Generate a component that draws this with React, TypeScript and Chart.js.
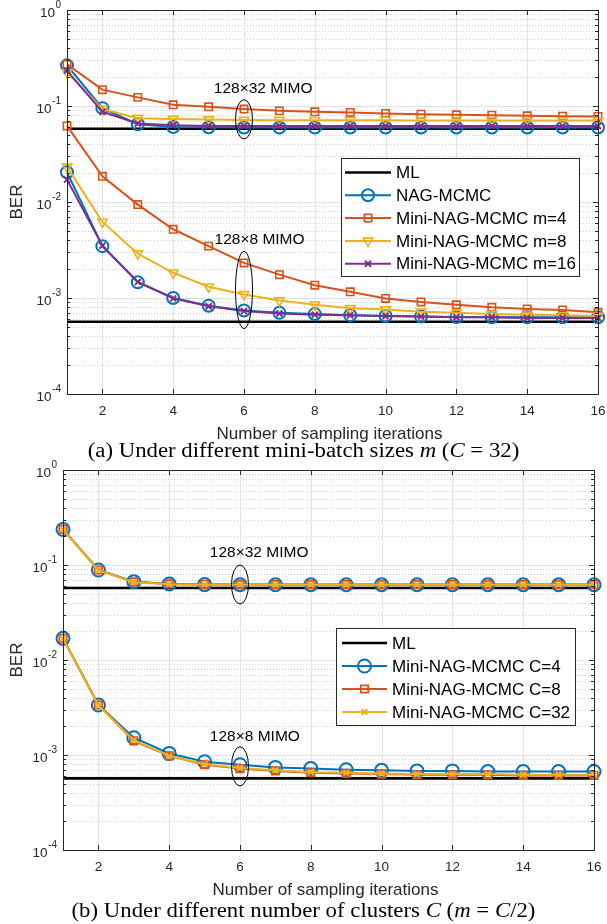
import React, { useEffect, useRef } from 'react';
import { Chart, registerables } from 'chart.js';
import { drawPoint } from 'chart.js/helpers';

Chart.register(...registerables);

// ---------- data ----------
const iterations = [1, 2, 3, 4, 5, 6, 7, 8, 9, 10, 11, 12, 13, 14, 15, 16];
const mlIterations = [1, 16];
const xTickValues = [2, 4, 6, 8, 10, 12, 14, 16];
const yTickExponents = [0, -1, -2, -3, -4];

// (a) different mini-batch sizes m (C = 32)
const mlA_32 = [0.058, 0.058];
const mlA_8 = [0.000566, 0.000566];
const nagA_32 = [0.265, 0.095, 0.0646, 0.0605, 0.0600, 0.0598, 0.0597, 0.0597, 0.0597, 0.0597, 0.0597, 0.0597, 0.0597, 0.0597, 0.0597, 0.0597];
const m4A_32 = [0.271, 0.148, 0.123, 0.103, 0.098, 0.093, 0.089, 0.087, 0.0857, 0.0836, 0.0822, 0.081, 0.0803, 0.079, 0.0784, 0.0778];
const m8A_32 = [0.225, 0.093, 0.0747, 0.073, 0.0722, 0.0716, 0.0712, 0.071, 0.071, 0.071, 0.0708, 0.0708, 0.0706, 0.0706, 0.0705, 0.0705];
const m16A_32 = [0.234, 0.087, 0.0656, 0.063, 0.062, 0.062, 0.0619, 0.0619, 0.0619, 0.0618, 0.0618, 0.0618, 0.0618, 0.0618, 0.0618, 0.0618];
const nagA_8 = [0.0204, 0.00347, 0.00146, 0.00100, 0.00083, 0.00074, 0.00070, 0.00068, 0.00066, 0.00065, 0.00064, 0.000635, 0.00063, 0.00063, 0.00063, 0.00063];
const m4A_8 = [0.062, 0.0185, 0.0094, 0.0052, 0.00347, 0.00232, 0.00175, 0.00136, 0.00116, 0.00099, 0.00091, 0.00085, 0.00080, 0.00077, 0.00075, 0.00071];
const m8A_8 = [0.0232, 0.0062, 0.0029, 0.00183, 0.00131, 0.00109, 0.00094, 0.00085, 0.00078, 0.00076, 0.00072, 0.00070, 0.00068, 0.00067, 0.00066, 0.00065];
const m16A_8 = [0.0171, 0.0035, 0.00147, 0.00099, 0.00082, 0.00073, 0.00069, 0.00067, 0.00066, 0.00065, 0.00064, 0.00063, 0.00063, 0.00062, 0.00062, 0.00062];

// (b) different number of clusters C (m = C/2)
const mlB_32 = [0.0573, 0.0573];
const mlB_8 = [0.000568, 0.000568];
const c4B_32 = [0.237, 0.0886, 0.0668, 0.063, 0.0622, 0.062, 0.062, 0.062, 0.062, 0.062, 0.062, 0.062, 0.062, 0.062, 0.062, 0.062];
const c8B_32 = [0.237, 0.0886, 0.0665, 0.0632, 0.0625, 0.0624, 0.0624, 0.0624, 0.0624, 0.0624, 0.0624, 0.0624, 0.0624, 0.0624, 0.0624, 0.0624];
const c32B_32 = [0.235, 0.088, 0.066, 0.0628, 0.062, 0.0619, 0.0619, 0.0619, 0.0619, 0.0619, 0.0619, 0.0619, 0.0619, 0.0619, 0.0619, 0.0619];
const c4B_8 = [0.0169, 0.00336, 0.00152, 0.00104, 0.00085, 0.00079, 0.00074, 0.00072, 0.0007, 0.00069, 0.00068, 0.00068, 0.00067, 0.00067, 0.00067, 0.00067];
const c8B_8 = [0.0169, 0.00336, 0.00141, 0.00098, 0.00079, 0.00072, 0.00068, 0.00065, 0.00064, 0.00063, 0.00062, 0.00062, 0.00062, 0.00061, 0.00061, 0.00061];
const c32B_8 = [0.0168, 0.00333, 0.00143, 0.00098, 0.0008, 0.00073, 0.00069, 0.00066, 0.00065, 0.00064, 0.00063, 0.00063, 0.00063, 0.00062, 0.00062, 0.00062];

// ---------- styles ----------
const FONT = '"Liberation Sans", Arial, Helvetica, sans-serif';
const AXIS = '#262626';
const BLUE = '#0072BD';
const ORANGE = '#D95319';
const YELLOW = '#EDB120';
const PURPLE = '#7E2F8E';

type Style = { color: string; lineWidth: number; marker: string | false; radius: number; rotation: number; markerWidth: number; order: number };

const styleML: Style = { color: '#000000', lineWidth: 2.6, marker: false, radius: 0, rotation: 0, markerWidth: 0, order: 10 };
const styleNag: Style = { color: BLUE, lineWidth: 2, marker: 'circle', radius: 6, rotation: 0, markerWidth: 2, order: 9 };
const styleM4: Style = { color: ORANGE, lineWidth: 2, marker: 'rect', radius: 5.2, rotation: 0, markerWidth: 1.6, order: 8 };
const styleM8: Style = { color: YELLOW, lineWidth: 2, marker: 'triangle', radius: 5.5, rotation: 180, markerWidth: 1.6, order: 7 };
const styleM16: Style = { color: PURPLE, lineWidth: 2, marker: 'crossRot', radius: 4.2, rotation: 0, markerWidth: 2, order: 6 };
const styleC4: Style = { color: BLUE, lineWidth: 2, marker: 'circle', radius: 6.5, rotation: 0, markerWidth: 2, order: 9 };
const styleC8: Style = { color: ORANGE, lineWidth: 2, marker: 'rect', radius: 5.2, rotation: 0, markerWidth: 1.8, order: 8 };
const styleC32: Style = { color: YELLOW, lineWidth: 2, marker: 'crossRot', radius: 4, rotation: 0, markerWidth: 2, order: 7 };

function ds(label: string, xs: number[], ys: number[], s: Style) {
  return {
    label,
    data: xs.map((x, i) => ({ x, y: ys[i] })),
    borderColor: s.color,
    borderWidth: s.lineWidth,
    pointStyle: s.marker,
    pointRadius: s.marker ? s.radius : 0,
    pointRotation: s.rotation,
    pointBorderColor: s.color,
    pointBackgroundColor: 'rgba(0,0,0,0)',
    pointBorderWidth: s.markerWidth,
    tension: 0,
    fill: false,
    clip: false,
    order: s.order,
  };
}

// ---------- drawing plugin (MATLAB-like axes) ----------
function line(ctx: CanvasRenderingContext2D, x0: number, y0: number, x1: number, y1: number) {
  ctx.beginPath();
  ctx.moveTo(x0, y0);
  ctx.lineTo(x1, y1);
  ctx.stroke();
}

const matlabPlugin = {
  id: 'matlab',
  beforeDatasetsDraw(chart: any) {
    const { ctx, chartArea: a, scales } = chart;
    const xs = scales.x, ys = scales.y;
    ctx.save();
    ctx.fillStyle = '#ffffff';
    ctx.fillRect(a.left, a.top, a.right - a.left, a.bottom - a.top);
    ctx.lineWidth = 1;
    // minor dotted y grid
    ctx.strokeStyle = '#cfcfcf';
    ctx.setLineDash([1, 2]);
    for (const e of yTickExponents) {
      if (e === 0) continue;
      for (let m = 2; m <= 9; m++) {
        const y = Math.round(ys.getPixelForValue(m * Math.pow(10, e))) + 0.5;
        line(ctx, a.left, y, a.right, y);
      }
    }
    ctx.setLineDash([]);
    ctx.strokeStyle = '#e2e2e2';
    for (const e of yTickExponents) {
      const y = Math.round(ys.getPixelForValue(Math.pow(10, e))) + 0.5;
      line(ctx, a.left, y, a.right, y);
    }
    for (const v of xTickValues) {
      const x = Math.round(xs.getPixelForValue(v)) + 0.5;
      line(ctx, x, a.top, x, a.bottom);
    }
    ctx.restore();
  },
  afterDatasetsDraw(chart: any, _args: any, opts: any) {
    const { ctx, chartArea: a, scales } = chart;
    const xs = scales.x, ys = scales.y;
    ctx.save();
    // box
    ctx.strokeStyle = AXIS;
    ctx.lineWidth = 1;
    ctx.strokeRect(Math.round(a.left) + 0.5, Math.round(a.top) + 0.5, Math.round(a.right - a.left), Math.round(a.bottom - a.top));
    // x ticks (inward, bottom and top)
    for (const v of xTickValues) {
      const x = Math.round(xs.getPixelForValue(v)) + 0.5;
      line(ctx, x, a.bottom, x, a.bottom - 5);
      line(ctx, x, a.top, x, a.top + 5);
    }
    // y ticks
    for (const e of yTickExponents) {
      const y = Math.round(ys.getPixelForValue(Math.pow(10, e))) + 0.5;
      line(ctx, a.left, y, a.left + 5, y);
      line(ctx, a.right, y, a.right - 5, y);
      if (e === 0) continue;
      for (let m = 2; m <= 9; m++) {
        const ym = Math.round(ys.getPixelForValue(m * Math.pow(10, e))) + 0.5;
        line(ctx, a.left, ym, a.left + 3, ym);
        line(ctx, a.right, ym, a.right - 3, ym);
      }
    }
    // tick labels
    ctx.fillStyle = AXIS;
    ctx.textBaseline = 'middle';
    ctx.textAlign = 'center';
    ctx.font = `13.5px ${FONT}`;
    for (const v of xTickValues) {
      ctx.fillText(String(v), xs.getPixelForValue(v), a.bottom + 17);
    }
    ctx.textAlign = 'left';
    for (const e of yTickExponents) {
      const y = ys.getPixelForValue(Math.pow(10, e));
      const expStr = e === 0 ? '0' : '-' + Math.abs(e);
      ctx.font = `10px ${FONT}`;
      const ew = ctx.measureText(expStr).width;
      ctx.font = `13.5px ${FONT}`;
      const bw = ctx.measureText('10').width;
      const right = a.left - 6;
      ctx.fillText('10', right - ew - bw - 0.5, y + 3.5);
      ctx.font = `10px ${FONT}`;
      ctx.fillText(expStr, right - ew, y - 5);
    }
    // axis titles
    ctx.font = `17px ${FONT}`;
    ctx.textAlign = 'center';
    ctx.fillText(opts.xTitle, (a.left + a.right) / 2 - 3, a.bottom + opts.xTitleGap);
    ctx.save();
    ctx.translate(17, (a.top + a.bottom) / 2);
    ctx.rotate(-Math.PI / 2);
    ctx.fillText(opts.yTitle, 0, 0);
    ctx.restore();
    // annotations
    ctx.strokeStyle = '#000000';
    ctx.lineWidth = 1;
    ctx.font = `15.5px ${FONT}`;
    ctx.fillStyle = '#000000';
    for (const n of opts.annotations) {
      const cx = xs.getPixelForValue(n.x);
      const rx = xs.getPixelForValue(n.x + n.xr) - cx;
      const t = ys.getPixelForValue(n.yTop);
      const b = ys.getPixelForValue(n.yBottom);
      ctx.beginPath();
      ctx.ellipse(cx, (t + b) / 2, rx, (b - t) / 2, 0, 0, Math.PI * 2);
      ctx.stroke();
      ctx.fillText(n.label, xs.getPixelForValue(n.labelX), ys.getPixelForValue(n.labelY));
    }
    // legend
    const L = opts.legend;
    ctx.fillStyle = '#ffffff';
    ctx.fillRect(L.x, L.y, L.w, L.h);
    ctx.strokeStyle = AXIS;
    ctx.lineWidth = 1;
    ctx.strokeRect(L.x + 0.5, L.y + 0.5, L.w, L.h);
    ctx.textAlign = 'left';
    ctx.font = `17px ${FONT}`;
    L.entries.forEach((en: any, i: number) => {
      const y = L.y + L.row0 + i * L.rowGap;
      const s = en.style;
      ctx.strokeStyle = s.color;
      ctx.lineWidth = s.lineWidth;
      line(ctx, L.x + L.lx0, y, L.x + L.lx1, y);
      if (s.marker) {
        ctx.lineWidth = s.markerWidth;
        ctx.fillStyle = 'rgba(0,0,0,0)';
        drawPoint(ctx, { pointStyle: s.marker, radius: s.radius, rotation: s.rotation, borderWidth: s.markerWidth } as any, L.x + (L.lx0 + L.lx1) / 2, y);
      }
      ctx.fillStyle = '#000000';
      ctx.fillText(en.label, L.x + L.tx, y + 1);
    });
    ctx.restore();
  },
};

function makeConfig(datasets: any[], padding: any, pluginOpts: any) {
  return {
    type: 'line',
    data: { datasets },
    plugins: [matlabPlugin],
    options: {
      animation: false,
      responsive: false,
      devicePixelRatio: 1,
      events: [],
      layout: { padding },
      scales: {
        x: {
          type: 'linear', min: 1, max: 16,
          grid: { display: false, drawTicks: false },
          border: { display: false },
          ticks: { display: false },
          afterFit: (s: any) => { s.height = 0; },
        },
        y: {
          type: 'logarithmic', min: 1e-4, max: 1,
          grid: { display: false, drawTicks: false },
          border: { display: false },
          ticks: { display: false },
          afterFit: (s: any) => { s.width = 0; },
        },
      },
      plugins: {
        legend: { display: false },
        tooltip: { enabled: false },
        matlab: pluginOpts,
      },
    },
  };
}

const chartA = () => makeConfig(
  [
    ds('ML', mlIterations, mlA_32, styleML),
    ds('ML', mlIterations, mlA_8, styleML),
    ds('NAG-MCMC', iterations, nagA_32, styleNag),
    ds('NAG-MCMC', iterations, nagA_8, styleNag),
    ds('Mini-NAG-MCMC m=4', iterations, m4A_32, styleM4),
    ds('Mini-NAG-MCMC m=4', iterations, m4A_8, styleM4),
    ds('Mini-NAG-MCMC m=8', iterations, m8A_32, styleM8),
    ds('Mini-NAG-MCMC m=8', iterations, m8A_8, styleM8),
    ds('Mini-NAG-MCMC m=16', iterations, m16A_32, styleM16),
    ds('Mini-NAG-MCMC m=16', iterations, m16A_8, styleM16),
  ],
  { left: 67, right: 9, top: 10, bottom: 51 },
  {
    xTitle: 'Number of sampling iterations',
    xTitleGap: 40,
    yTitle: 'BER',
    annotations: [
      { label: '128×32 MIMO', x: 6, xr: 0.24, yTop: 0.1164, yBottom: 0.0453, labelX: 6.54, labelY: 0.1507 },
      { label: '128×8 MIMO', x: 6, xr: 0.24, yTop: 0.00307, yBottom: 0.00048, labelX: 6.44, labelY: 0.0040 },
    ],
    legend: {
      x: 341, y: 158, w: 238, h: 118, row0: 14.5, rowGap: 22.8, lx0: 4, lx1: 50, tx: 55,
      entries: [
        { label: 'ML', style: styleML },
        { label: 'NAG-MCMC', style: styleNag },
        { label: 'Mini-NAG-MCMC m=4', style: styleM4 },
        { label: 'Mini-NAG-MCMC m=8', style: styleM8 },
        { label: 'Mini-NAG-MCMC m=16', style: styleM16 },
      ],
    },
  },
);

const chartB = () => makeConfig(
  [
    ds('ML', mlIterations, mlB_32, styleML),
    ds('ML', mlIterations, mlB_8, styleML),
    ds('Mini-NAG-MCMC C=4', iterations, c4B_32, styleC4),
    ds('Mini-NAG-MCMC C=4', iterations, c4B_8, styleC4),
    ds('Mini-NAG-MCMC C=8', iterations, c8B_32, styleC8),
    ds('Mini-NAG-MCMC C=8', iterations, c8B_8, styleC8),
    ds('Mini-NAG-MCMC C=32', iterations, c32B_32, styleC32),
    ds('Mini-NAG-MCMC C=32', iterations, c32B_8, styleC32),
  ],
  { left: 63, right: 13, top: 15, bottom: 65 },
  {
    xTitle: 'Number of sampling iterations',
    xTitleGap: 40,
    yTitle: 'BER',
    annotations: [
      { label: '128×32 MIMO', x: 6, xr: 0.24, yTop: 0.1, yBottom: 0.0389, labelX: 6.54, labelY: 0.1347 },
      { label: '128×8 MIMO', x: 6, xr: 0.24, yTop: 0.00122, yBottom: 0.000472, labelX: 6.42, labelY: 0.00156 },
    ],
    legend: {
      x: 336, y: 173, w: 239, h: 97, row0: 15, rowGap: 23, lx0: 6, lx1: 51, tx: 56,
      entries: [
        { label: 'ML', style: styleML },
        { label: 'Mini-NAG-MCMC C=4', style: styleC4 },
        { label: 'Mini-NAG-MCMC C=8', style: styleC8 },
        { label: 'Mini-NAG-MCMC C=32', style: styleC32 },
      ],
    },
  },
);

function Plot({ makeCfg, top, height }: { makeCfg: () => any; top: number; height: number }) {
  const ref = useRef<HTMLCanvasElement>(null);
  useEffect(() => {
    const chart = new Chart(ref.current as HTMLCanvasElement, makeCfg() as any);
    return () => chart.destroy();
  }, []);
  return (
    <canvas
      ref={ref}
      width={607}
      height={height}
      style={{ position: 'absolute', left: 0, top, width: 607, height }}
    />
  );
}

const captionStyle: React.CSSProperties = {
  position: 'absolute',
  left: 0,
  width: 607,
  textAlign: 'center',
  fontFamily: '"Liberation Serif", "Times New Roman", Times, serif',
  fontSize: 20,
  lineHeight: '22px',
  color: '#000',
  whiteSpace: 'nowrap',
  transform: 'scaleX(1.14)',
  transformOrigin: '303.5px 50%',
};

export default function App() {
  return (
    <div style={{ position: 'absolute', left: 0, top: 0, width: 607, height: 924, background: '#ffffff', overflow: 'hidden' }}>
      <Plot makeCfg={chartA} top={0} height={445} />
      <Plot makeCfg={chartB} top={455} height={460} />
      <div style={{ ...captionStyle, top: 439 }}>
        (a) Under different mini-batch sizes <i>m</i> (<i>C</i> = 32)
      </div>
      <div style={{ ...captionStyle, top: 899 }}>
        (b) Under different number of clusters <i>C</i> (<i>m</i> = <i>C</i>/2)
      </div>
    </div>
  );
}
